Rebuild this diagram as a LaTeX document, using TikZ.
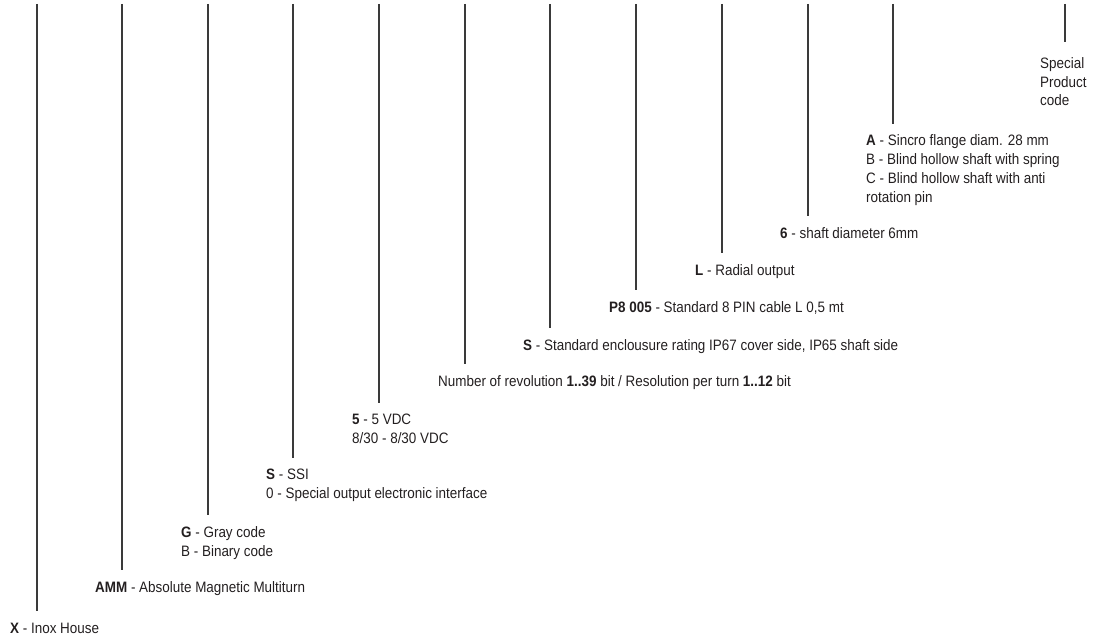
\documentclass[tikz,border=0pt]{standalone}
\usepackage{fontspec}
\setmainfont{Liberation Sans}[FakeStretch=0.89]
\definecolor{txt}{HTML}{231F20}
\definecolor{ln}{HTML}{3A3A3A}
\begin{document}
\begin{tikzpicture}[x=1pt,y=-1pt,
  lbl/.style={anchor=base west, inner sep=0pt, font=\fontsize{15.1}{18.8}\selectfont, text=txt, align=left},
  tick/.style={draw=ln, line width=1.1pt}]
\useasboundingbox (0,0) rectangle (1104,642);
% labels (base anchor = baseline of the last line)
\node[lbl] (l1) at (10,633) {\textbf{X} - Inox House};
\node[lbl] (l2) at (95,592) {\textbf{AMM} - Absolute Magnetic Multiturn};
\node[lbl] (l3) at (181,556) {\textbf{G} - Gray code\\B - Binary code};
\node[lbl] (l4) at (266,498) {\textbf{S} - SSI\\0 - Special output electronic interface};
\node[lbl] (l5) at (352,443) {\textbf{5} - 5 VDC\\8/30 - 8/30 VDC};
\node[lbl] (l6) at (438,386) {Number of revolution \textbf{1..39} bit / Resolution per turn \textbf{1..12} bit};
\node[lbl] (l7) at (523,350) {\textbf{S} - Standard enclousure rating IP67 cover side, IP65 shaft side};
\node[lbl] (l8) at (609,312) {\textbf{P8 005} - Standard 8 PIN cable L 0,5 mt};
\node[lbl] (l9) at (695,275) {\textbf{L} - Radial output};
\node[lbl] (l10) at (780,238) {\textbf{6} - shaft diameter 6mm};
\node[lbl] (l11) at (866,202) {\textbf{A} - Sincro flange diam. 28 mm\\B - Blind hollow shaft with spring\\C - Blind hollow shaft with anti\\rotation pin};
\node[lbl] (l12) at (1040,106) {Special\\Product\\code};
% tick lines
\foreach \i/\x/\b in {1/37/611, 2/122/570, 3/208/515, 4/293/458, 5/379/403, 6/465/364, 7/550/328, 8/636/290, 9/722/253, 10/808/216, 11/893/124, 12/1065/42} {
  \coordinate (t\i) at (\x,4);
  \coordinate (e\i) at (\x,\b);
  \draw[tick] (t\i) -- (e\i);
}
\end{tikzpicture}
\end{document}
